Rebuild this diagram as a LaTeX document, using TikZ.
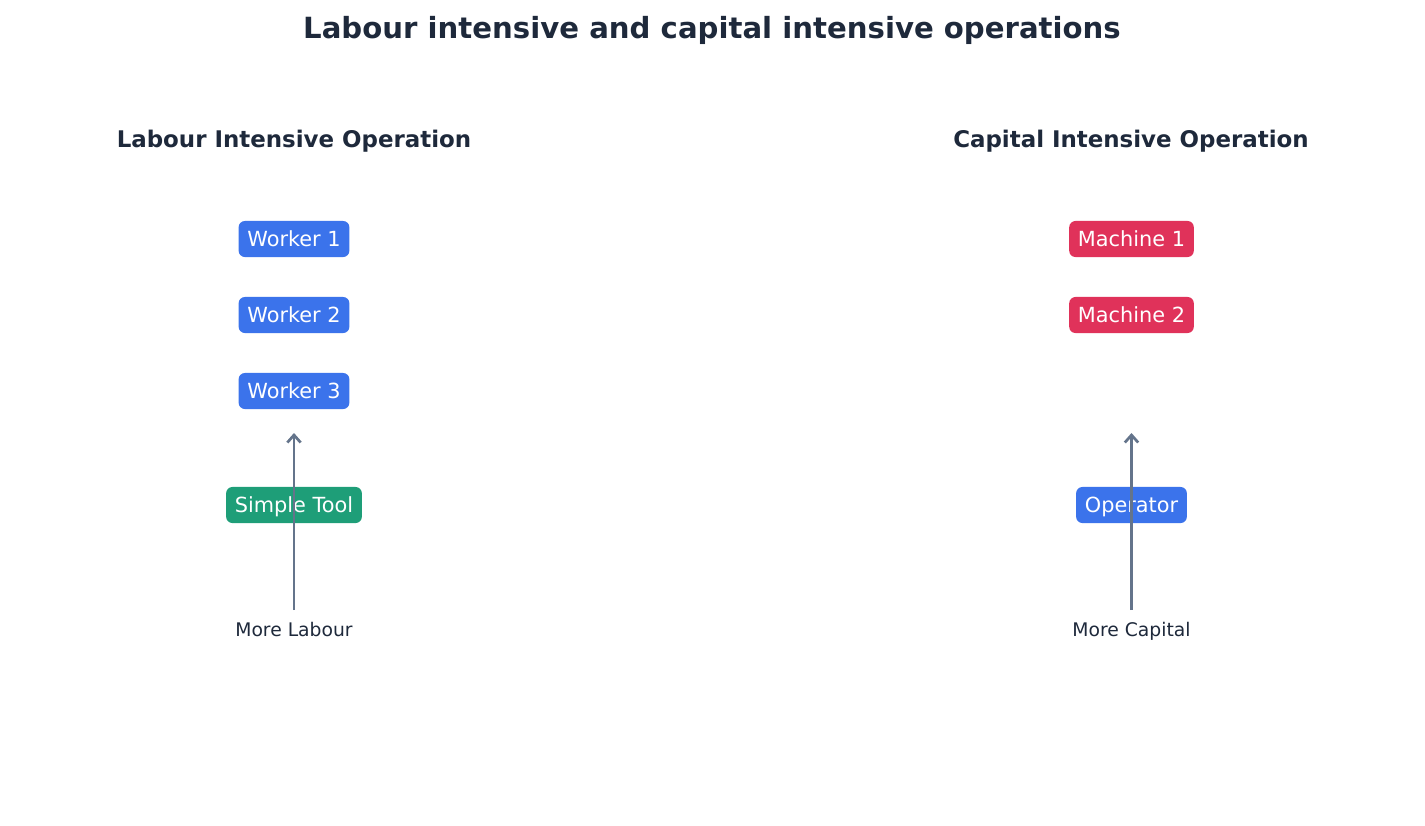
\documentclass[tikz,border=0pt]{standalone}
\usepackage{fontspec}
\setmainfont{DejaVu Sans}
\usetikzlibrary{arrows.meta}
\definecolor{ink}{HTML}{1E293B}
\definecolor{bluebox}{HTML}{3B73EB}
\definecolor{redbox}{HTML}{E0325A}
\definecolor{greenbox}{HTML}{1E9E78}
\definecolor{arrowgray}{HTML}{64748B}
\tikzset{
  box/.style={rounded corners=3pt, text=white, minimum height=17.3pt, inner xsep=4.2pt, inner ysep=0pt, text height=9.2pt, text depth=2.4pt, font=\fontsize{10}{12}\selectfont},
  wbox/.style={box, fill=bluebox},
  mbox/.style={box, fill=redbox},
  tbox/.style={box, fill=greenbox},
  heading/.style={text=ink, font=\bfseries\fontsize{11}{13}\selectfont},
  titletext/.style={text=ink, font=\bfseries\fontsize{14}{17}\selectfont},
  caption/.style={text=ink, text height=6.6pt, text depth=0pt, font=\fontsize{9}{11}\selectfont},
  uparrow/.style={draw=arrowgray, line width=1.4pt, -{Straight Barb[length=3.6pt, width=6.4pt, line width=1.3pt]}}
}
\begin{document}
\begin{tikzpicture}[x=0.48pt, y=-0.48pt]
\useasboundingbox (0,0) rectangle (1425,825);
\node[titletext] (title) at (712,30) {Labour intensive and capital intensive operations};
\node[heading] (lh) at (294,141.5) {Labour Intensive Operation};
\node[heading] (rh) at (1131,141.5) {Capital Intensive Operation};
\node[wbox] (w1) at (294,239) {Worker 1};
\node[wbox] (w2) at (294,315) {Worker 2};
\node[wbox] (w3) at (294,391) {Worker 3};
\node[tbox] (tool) at (294,505) {Simple Tool};
\node[mbox] (m1) at (1131.5,239) {Machine 1};
\node[mbox] (m2) at (1131.5,315) {Machine 2};
\node[wbox] (op) at (1131.5,505) {Operator};
\node[caption] (ml) at (294,630) {More Labour};
\node[caption] (mc) at (1131.5,630) {More Capital};
\coordinate (lb) at (294,610);
\coordinate (lt) at (294,433);
\coordinate (rb) at (1131.5,610);
\coordinate (rt) at (1131.5,433);
\draw[uparrow] (lb) -- (lt);
\draw[uparrow] (rb) -- (rt);
\end{tikzpicture}
\end{document}
